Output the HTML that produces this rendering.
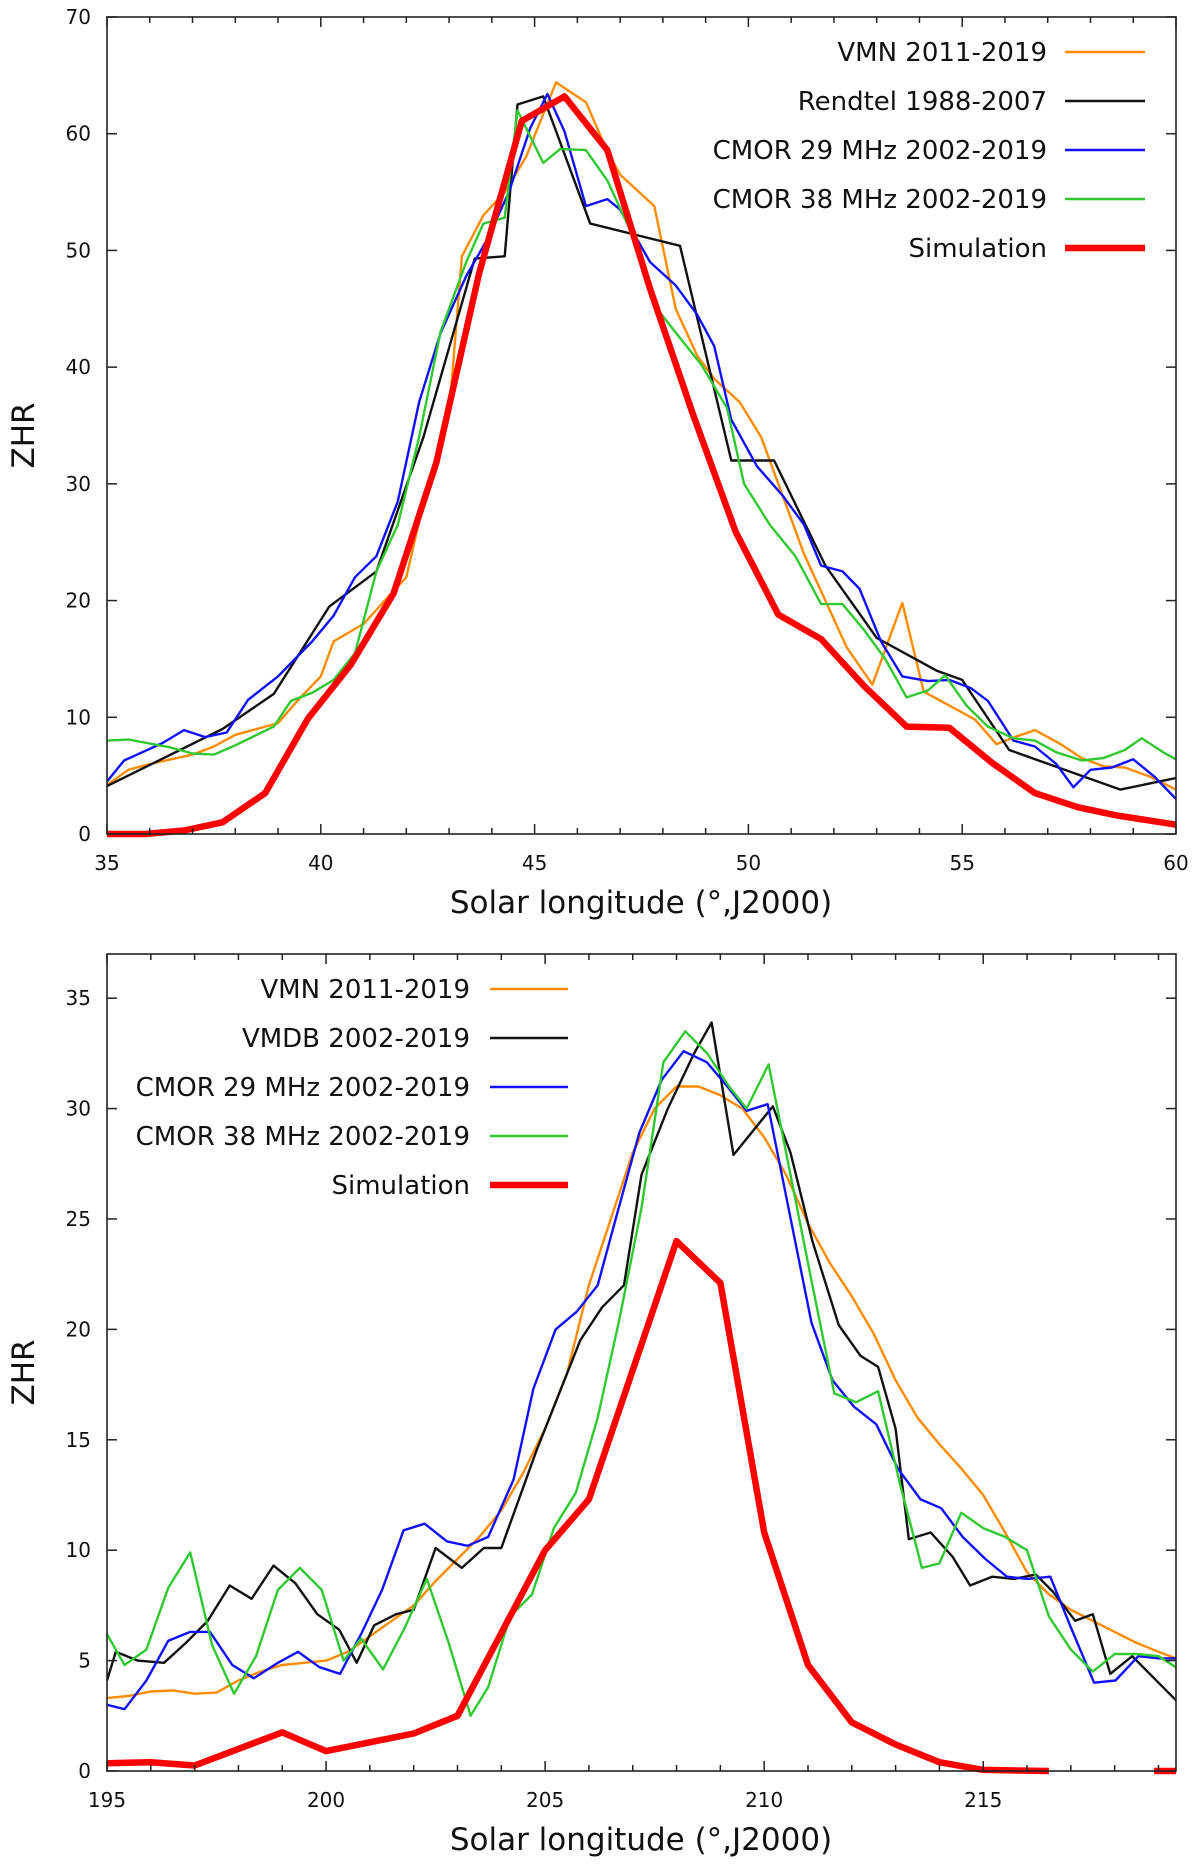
<!DOCTYPE html>
<html><head><meta charset="utf-8">
<style>
html,body{margin:0;padding:0;background:#fff;}
svg{display:block;font-family:"DejaVu Sans","Liberation Sans",sans-serif;}
</style></head>
<body>
<svg id="chart" width="1200" height="1865" viewBox="0 0 1200 1865" xmlns="http://www.w3.org/2000/svg"></svg>
<script>
// ---- Top chart data ----
const topVmnX=[35,35.5,36,36.5,37,37.5,38,38.5,39,39.5,40,40.3,41,41.5,42,42.5,43,43.3,43.8,44.3,44.8,45.5,46.2,46.7,47,47.8,48.3,48.8,49.2,49.8,50.3,50.8,51.3,51.8,52.3,52.9,53.6,54.1,54.7,55.3,55.8,56.3,56.7,57.3,57.8,58.3,58.8,59.4,60];
const topVmnY=[4.2,5.5,6,6.4,6.8,7.5,8.5,9,9.5,11.6,13.5,16.5,18,20,22,30,36,49.5,53,55,58,64.4,62.7,58.5,56.5,53.8,45,41,39,37,34,29,24,20,16,12.8,19.8,12.2,11,9.8,7.7,8.4,8.9,7.7,6.5,5.8,5.7,4.9,3.8];
const topRenX=[35,37.7,38.9,40.2,41.3,42.4,43.6,44.3,44.6,45.2,46.3,48.4,49.6,50.6,51.8,53,54.4,55,56.1,58.7,60];
const topRenY=[4.1,9,12,19.5,22.5,34,49.3,49.5,62.5,63.2,52.3,50.4,32,32,23,16.8,14,13.2,7.2,3.8,4.8];
const topC29X=[35,35.4,36.3,36.8,37.3,37.8,38.3,39,39.8,40.3,40.8,41.3,41.8,42.3,42.8,43.4,43.9,44.4,44.9,45.3,45.7,46.2,46.7,47,47.7,48.3,48.8,49.2,49.6,50.2,50.8,51.3,51.7,52.2,52.6,53.1,53.6,54.2,54.7,55.2,55.6,56.2,56.7,57.2,57.6,58,58.5,59,59.5,60];
const topC29Y=[4.5,6.3,7.8,8.9,8.3,8.7,11.5,13.5,16.5,18.7,22,23.8,28.5,37,42.9,47.8,51,55,60.5,63.4,60.2,53.8,54.4,53.5,49,47,44.5,41.8,35.5,31.5,29,26.5,23,22.5,21,16.5,13.5,13.1,13.2,12.5,11.4,8,7.5,6,4,5.5,5.7,6.4,4.9,3];
const topC38X=[35,35.5,36.5,37,37.5,38,38.9,39.3,39.8,40.3,40.8,41.3,41.8,42.3,42.8,43.4,43.8,44.3,44.6,45.2,45.6,46.2,46.7,47.2,47.8,48.4,48.9,49.5,49.9,50.5,51.1,51.7,52.2,52.7,53.2,53.7,54.2,54.6,55.1,55.6,56.2,56.7,57.2,57.8,58.3,58.8,59.2,59.7,60];
const topC38Y=[8,8.1,7.4,6.9,6.8,7.6,9.2,11.4,12.1,13.2,15.5,22.5,26.5,34,43,49,52.3,52.8,62,57.5,58.7,58.6,56,52,45.3,42.5,40.2,36.5,30,26.5,23.8,19.7,19.7,17.5,15,11.7,12.3,13.6,11,9.2,8.2,8,7,6.3,6.5,7.2,8.2,7,6.4];
const topSimX=[35,35.9,36.8,37.7,38.7,39.7,40.7,41.7,42.7,43.7,44.7,45.7,46.7,47.7,48.7,49.7,50.7,51.7,52.7,53.7,54.7,55.7,56.7,57.7,58.6,60];
const topSimY=[0,0,0.3,1,3.5,9.9,14.5,20.6,31.8,48,61.1,63.2,58.6,46.7,36,25.9,18.8,16.7,12.7,9.2,9.1,6.1,3.5,2.3,1.6,0.8];
const topXTicks=[35,40,45,50,55,60];
const topYTicks=[0,10,20,30,40,50,60,70];

// ---- Bottom chart data ----
const botVmnX=[195,195.5,196,196.5,197,197.5,198,198.5,199,199.5,200,200.5,201,201.5,202,202.5,203,203.5,204,204.5,205,205.5,206,206.5,207,207.5,208,208.5,209,209.5,210,210.5,211,211.5,212,212.5,213,213.5,214,214.5,215,215.5,216,216.5,217,217.5,218,218.5,219,219.4];
const botVmnY=[3.3,3.4,3.6,3.65,3.5,3.55,4.1,4.5,4.8,4.9,5,5.4,6.1,6.8,7.5,8.6,9.6,10.6,11.8,13.5,15.5,18,22,25,28,30,31,31,30.6,30,28.7,27,24.8,23,21.5,19.8,17.7,16,14.8,13.7,12.5,10.8,9,8,7.3,6.8,6.3,5.8,5.4,5.1];
const botVmdbX=[195,195.2,195.7,196.3,196.8,197.3,197.8,198.3,198.8,199.3,199.8,200.3,200.7,201.1,201.6,202,202.5,203.1,203.6,204,204.8,205.3,205.8,206.3,206.8,207.2,207.8,208.4,208.8,209.3,210.2,210.6,211.1,211.7,212.2,212.6,213,213.3,213.8,214.3,214.7,215.2,215.7,216.2,216.6,217.1,217.5,217.9,218.4,219.4];
const botVmdbY=[4.1,5.4,5,4.9,5.8,6.8,8.4,7.8,9.3,8.5,7.1,6.4,4.9,6.6,7.1,7.3,10.1,9.2,10.1,10.1,14.5,17,19.5,21,22,27,30,32.5,33.9,27.9,30.1,28,24,20.2,18.8,18.3,15.5,10.5,10.8,9.7,8.4,8.8,8.7,8.9,8.1,6.8,7.1,4.4,5.2,3.2];
const botC29X=[195,195.4,195.9,196.4,196.9,197.35,197.86,198.35,198.9,199.36,199.85,200.32,200.8,201.28,201.77,202.25,202.76,203.23,203.7,204.28,204.73,205.24,205.72,206.2,206.68,207.15,207.66,208.16,208.69,209.16,209.6,210.08,211.08,211.56,212.05,212.56,213.05,213.57,214.04,214.53,215.05,215.54,216.01,216.53,217,217.53,218.02,218.54,219.03,219.4];
const botC29Y=[3,2.8,4.1,5.9,6.3,6.3,4.8,4.2,4.9,5.4,4.7,4.4,6.2,8.2,10.9,11.2,10.4,10.2,10.6,13.2,17.3,20,20.8,22,25.5,28.9,31.3,32.6,32.1,31,29.9,30.2,20.3,17.7,16.5,15.7,13.7,12.3,11.9,10.6,9.6,8.8,8.7,8.8,6.5,4,4.1,5.2,5.1,5.1];
const botC38X=[195,195.4,195.9,196.4,196.9,197.4,197.9,198.4,198.9,199.4,199.9,200.4,200.8,201.3,201.8,202.3,202.8,203.3,203.7,204.2,204.7,205.2,205.7,206.2,206.7,207.2,207.7,208.2,208.7,209.2,209.6,210.1,210.6,211.1,211.6,212.1,212.6,213.1,213.6,214,214.5,215,215.5,216,216.5,217,217.5,218,218.5,219,219.4];
const botC38Y=[6.2,4.8,5.5,8.3,9.9,5.7,3.5,5.2,8.2,9.2,8.2,5,6,4.6,6.5,8.7,5.8,2.5,3.8,7,8,11,12.6,16,20.5,25.5,32.1,33.5,32.5,31,30,32,27,22,17.1,16.7,17.2,13,9.2,9.4,11.7,11,10.6,10,7,5.5,4.5,5.3,5.3,5.2,4.7];
const botSimX=[195,196,197,198,199,200,201,202,203,205,206,208,209,210,211,212,213,214,215,216.5];
const botSimY=[0.35,0.4,0.25,1,1.75,0.9,1.3,1.7,2.5,10,12.3,24,22.1,10.8,4.8,2.2,1.2,0.4,0.05,0];
const botSim2X=[218.9,219.4];
const botSim2Y=[0,0];
const botXTicks=[195,200,205,210,215];
const botYTicks=[0,5,10,15,20,25,30,35];

const NS="http://www.w3.org/2000/svg";
const svg=document.getElementById('chart');
function mk(tag,attrs,parent){const e=document.createElementNS(NS,tag);for(const k in attrs)e.setAttribute(k,attrs[k]);(parent||svg).appendChild(e);return e;}

function drawPanel(cfg){
  const g=mk('g',{});
  
  
  const L=107,R=1176,T=cfg.top,B=cfg.bottom;
  const sx=v=>L+(v-cfg.xmin)/(cfg.xmax-cfg.xmin)*(R-L);
  const sy=v=>B-(v-cfg.ymin)/(cfg.ymax-cfg.ymin)*(B-T);
  const cid='clip'+cfg.name;
  const cp=mk('clipPath',{id:cid},g);mk('rect',{x:L,y:T,width:R-L,height:B-T+4},cp);
  const sg=mk('g',{'clip-path':'url(#'+cid+')'},g);
  cfg.series.forEach(s=>{
    s.segs.forEach(seg=>{
      const d=seg[0].map((x,i)=>(i?'L':'M')+sx(x).toFixed(1)+','+sy(seg[1][i]).toFixed(1)).join(' ');
      const p=mk('path',{d:d,fill:'none',stroke:s.color,'stroke-width':s.w,'stroke-linejoin':'round'},sg);
      
      
    });
  });
  const fr=mk('rect',{x:L,y:T,width:R-L,height:B-T,fill:'none',stroke:'#222','stroke-width':1.6},g);
  
  
  cfg.yticks.forEach(v=>{
    const y=sy(v);
    mk('line',{x1:L,y1:y,x2:L+10,y2:y,stroke:'#222','stroke-width':1.5},g);
    mk('line',{x1:R,y1:y,x2:R-10,y2:y,stroke:'#222','stroke-width':1.5},g);
    const t=mk('text',{x:L-16,y:y+7,'text-anchor':'end','font-size':20,fill:'#111'},g);
    t.textContent=v;
    
    
  });
  for(let v=Math.ceil(cfg.xmin);v<=cfg.xmax;v++){
    const x=sx(v);const major=cfg.xticks.indexOf(v)>=0;
    const len=major?10:6;
    mk('line',{x1:x,y1:B,x2:x,y2:B-len,stroke:'#222','stroke-width':1.5},g);
    mk('line',{x1:x,y1:T,x2:x,y2:T+len,stroke:'#222','stroke-width':1.5},g);
  }
  cfg.xticks.forEach(v=>{
    const t=mk('text',{x:sx(v),y:B+36,'text-anchor':'middle','font-size':20,fill:'#111'},g);
    t.textContent=v;
    
    
  });
  const xt=mk('text',{x:641,y:B+79,'text-anchor':'middle','font-size':31,fill:'#111'},g);
  xt.textContent='Solar longitude (°,J2000)';
  
  
  const cy=(T+B)/2+10;
  const yt=mk('text',{x:0,y:0,'text-anchor':'middle','font-size':31,fill:'#111',transform:'translate(34,'+cy+') rotate(-90)'},g);
  yt.textContent='ZHR';
  
  
  const lg=mk('g',{},g);
  
  
  cfg.series.forEach((s,i)=>{
    const y=cfg.leg.y0+i*49;
    const e=mk('g',{},lg);
    
    
    const t=mk('text',{x:cfg.leg.tx,y:y+9,'text-anchor':'end','font-size':26,fill:'#111'},e);
    t.textContent=s.label;
    mk('line',{x1:cfg.leg.l1,y1:y,x2:cfg.leg.l2,y2:y,stroke:s.color,'stroke-width':s.w},e);
  });
}

drawPanel({name:'top-chart',top:17,bottom:834,xmin:35,xmax:60,ymin:0,ymax:70,xticks:topXTicks,yticks:topYTicks,
  leg:{y0:52,tx:1047,l1:1065,l2:1145},
  series:[
    {id:'vmn',label:'VMN 2011-2019',color:'#ff8c00',w:2.4,segs:[[topVmnX,topVmnY]]},
    {id:'rendtel',label:'Rendtel 1988-2007',color:'#111',w:2.4,segs:[[topRenX,topRenY]]},
    {id:'cmor29',label:'CMOR 29 MHz 2002-2019',color:'#1010ff',w:2.4,segs:[[topC29X,topC29Y]]},
    {id:'cmor38',label:'CMOR 38 MHz 2002-2019',color:'#30c830',w:2.4,segs:[[topC38X,topC38Y]]},
    {id:'simulation',label:'Simulation',color:'#ff0000',w:6.5,segs:[[topSimX,topSimY]]}
  ]});
drawPanel({name:'bottom-chart',top:954,bottom:1771,xmin:195,xmax:219.4,ymin:0,ymax:37,xticks:botXTicks,yticks:botYTicks,
  leg:{y0:989,tx:470,l1:490,l2:568},
  series:[
    {id:'vmn',label:'VMN 2011-2019',color:'#ff8c00',w:2.4,segs:[[botVmnX,botVmnY]]},
    {id:'vmdb',label:'VMDB 2002-2019',color:'#111',w:2.4,segs:[[botVmdbX,botVmdbY]]},
    {id:'cmor29',label:'CMOR 29 MHz 2002-2019',color:'#1010ff',w:2.4,segs:[[botC29X,botC29Y]]},
    {id:'cmor38',label:'CMOR 38 MHz 2002-2019',color:'#30c830',w:2.4,segs:[[botC38X,botC38Y]]},
    {id:'simulation',label:'Simulation',color:'#ff0000',w:6.5,segs:[[botSimX,botSimY],[botSim2X,botSim2Y]]}
  ]});
</script>
</body></html>
